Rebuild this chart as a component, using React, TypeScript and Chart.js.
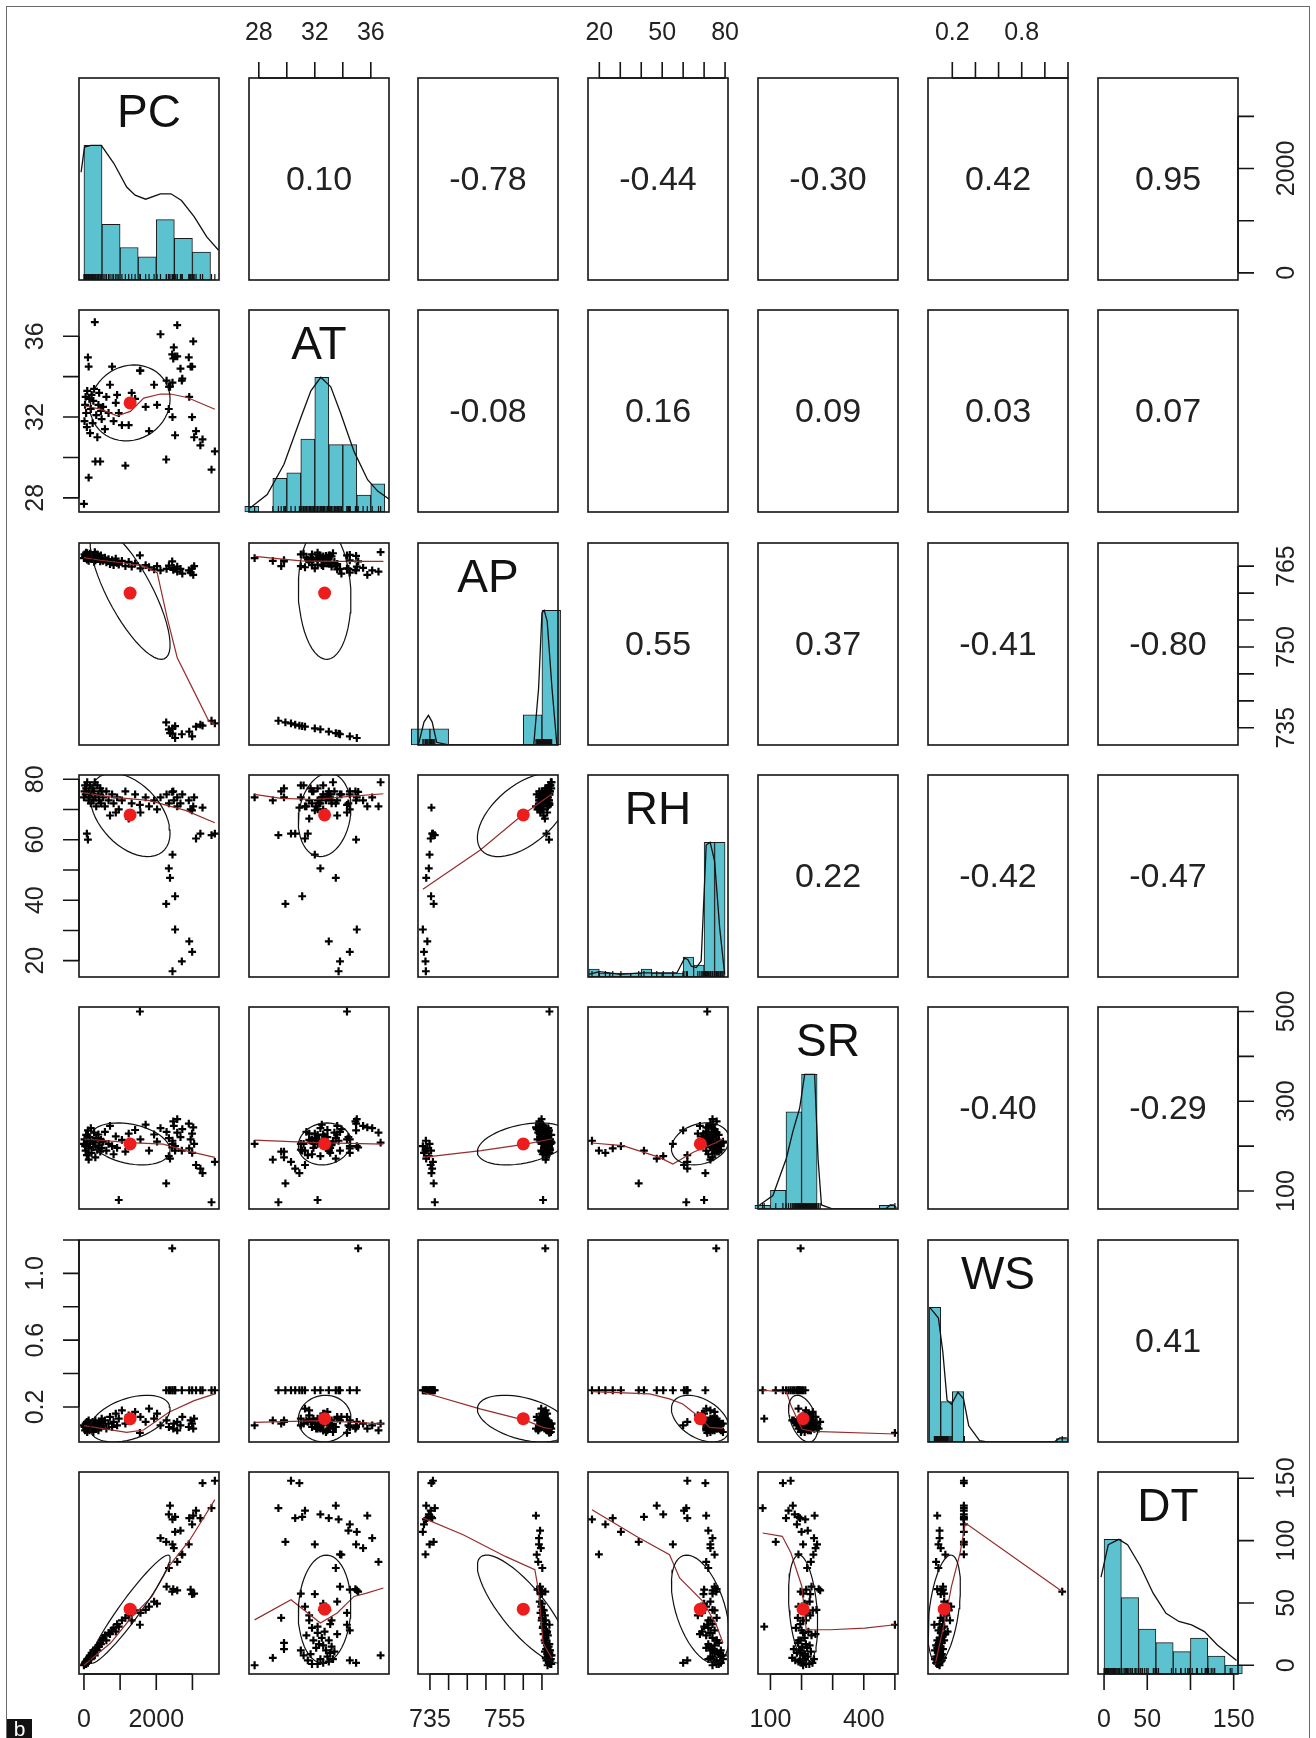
import { useEffect, useRef } from 'react';
import { Chart, registerables } from 'chart.js';

Chart.register(...registerables);

const VAR_NAMES = ['PC', 'AT', 'AP', 'RH', 'SR', 'WS', 'DT'];

// ---- raw observations (first 15 rows: low-pressure cluster) ----
const PC_OBS = [3528, 2275, 3620, 3220, 3280, 2521, 3100, 2449, 2347, 2912, 2380, 2449, 2993, 2521, 2707,
  0, 15, 30, 45, 60, 80, 90, 110, 130, 130, 150, 170, 190, 210, 240, 260, 280, 300, 315, 340,
  370, 400, 420, 450, 470, 490, 530, 580, 620, 680, 720, 778, 820, 880, 917, 963, 1050, 1146, 1238, 1320,
  1415, 1547, 1562, 1706, 1800, 1940, 2022, 2117, 2285, 2350, 2441, 2470, 2485, 2580, 2580, 2670, 2720, 2900, 2950, 2990,
  3023, 3048];
const AT_OBS = [29.4, 29.9, 30.3, 30.6, 30.9, 31.1, 31.3, 32.0, 32.4, 33.0, 33.5, 33.7, 34.5, 35.0, 33.8,
  27.7, 31.8, 32.6, 33.0, 32.2, 31.5, 33.3, 34.95, 29.0, 34.5, 32.9, 31.2, 32.4, 33.1, 31.7, 32.8, 33.4, 36.7, 29.8, 32.1,
  31.0, 32.6, 33.2, 29.8, 32.3, 31.9, 32.5, 31.4, 33.0, 32.2, 33.6, 34.5, 31.8, 32.7, 33.1, 32.2, 31.6, 29.6, 31.6, 33.2,
  32.9, 34.3, 34.3, 32.5, 31.3, 33.6, 32.6, 36.1, 33.8, 33.5, 35.1, 34.9, 35.45, 36.55, 35.0, 34.4, 33.9, 34.95, 34.5, 32.0,
  35.75, 31.0];
const AP_OBS = [736.3, 736.0, 735.8, 735.6, 735.4, 735.3, 735.2, 734.9, 734.7, 734.3, 734.0, 733.9, 733.4, 733.1, 733.8,
  766.5, 767.2, 766.8, 767.0, 767.5, 766.2, 767.4, 766.9, 766.0, 767.1, 766.6, 767.3, 766.7, 767.0, 766.4, 766.9, 765.8, 767.6, 766.1, 766.5,
  767.2, 766.3, 766.8, 765.9, 767.0, 766.2, 766.0, 766.6, 765.7, 766.3, 765.4, 766.1, 765.2, 766.4, 765.6, 765.3, 766.0, 765.0, 765.8, 764.9,
  765.5, 767.0, 764.6, 765.2, 764.8, 764.4, 765.0, 764.2, 764.5, 765.1, 765.9, 764.3, 764.7, 764.0, 764.9, 764.5, 763.6, 764.2, 763.8, 764.6,
  763.4, 765.0];
const RH_OBS = [61.5, 38.8, 62.0, 62.0, 70.6, 41.3, 60.4, 55.1, 50.5, 26.4, 47.4, 16.5, 22.9, 30.3, 19.8,
  74, 76, 78, 75, 77, 62, 79, 60, 73, 76, 74, 78, 72, 75, 77, 73, 76, 79, 74, 71,
  78, 75, 73, 77, 72, 76, 74, 71, 76, 73, 68, 75, 72, 69, 74, 70, 73, 76, 67, 72,
  75, 71.5, 69, 74, 71, 73, 70, 74, 75, 72, 75.8, 76, 73, 71, 74, 72, 75, 73, 70, 69.7,
  71, 74];
const SR_OBS = [75, 117, 165, 150, 140, 190, 158, 205, 178, 195, 172, 212, 185, 200, 190,
  205, 215, 200, 190, 225, 180, 210, 235, 170, 195, 220, 205, 240, 185, 212, 198, 230, 208, 175, 218,
  192, 226, 202, 188, 214, 196, 210, 232, 190, 205, 245, 200, 182, 222, 196, 80, 214, 188, 228, 205,
  236, 500, 215, 248, 190, 226, 210, 240, 232, 218, 197, 255, 245, 230, 260, 220, 238, 250, 215, 228,
  242, 205];
const WS_OBS = [0.3, 0.3, 0.3, 0.3, 0.3, 0.3, 0.3, 0.3, 0.3, 0.3, 0.3, 0.3, 0.3, 0.3, 0.3,
  0.09, 0.08, 0.06, 0.10, 0.07, 0.11, 0.05, 0.09, 0.12, 0.08, 0.06, 0.10, 0.07, 0.09, 0.11, 0.05, 0.08, 0.10, 0.12, 0.07,
  0.09, 0.06, 0.10, 0.11, 0.08, 0.13, 0.09, 0.12, 0.07, 0.10, 0.14, 0.08, 0.11, 0.16, 0.09, 0.13, 0.18, 0.10, 0.15, 0.12,
  0.17, 0.045, 0.14, 0.11, 0.19, 0.13, 0.16, 0.09, 0.12, 0.08, 1.15, 0.07, 0.10, 0.06, 0.11, 0.09, 0.14, 0.08, 0.12, 0.10,
  0.07, 0.13];
const DT_OBS = [126, 99, 148, 118, 146, 119, 124, 97, 121, 118, 128, 117, 113, 107, 89,
  0, 1, 2, 3, 1, 4, 5, 2, 6, 4, 7, 8, 5, 10, 9, 12, 11, 8, 13, 14,
  12, 16, 15, 18, 17, 20, 22, 24, 20, 26, 25, 28, 30, 27, 33, 31, 36, 38, 40, 36,
  44, 32.5, 42, 44.5, 47, 51, 49.4, 102, 63, 78, 59, 61, 94, 83, 60, 108, 88.7, 97, 60.6, 57,
  120, 57.4];

// ---- summary statistics (red dots, ellipses, printed correlations) ----
const MEANS = [1276, 32.7, 760.0, 68.2, 205, 0.13, 45];
const SDS = [1106, 1.88, 12.3, 13.8, 46.8, 0.14, 43.4];
const CORR = [
  [1, 0.10, -0.78, -0.44, -0.30, 0.42, 0.95],
  [0.10, 1, -0.08, 0.16, 0.09, 0.03, 0.07],
  [-0.78, -0.08, 1, 0.55, 0.37, -0.41, -0.80],
  [-0.44, 0.16, 0.55, 1, 0.22, -0.42, -0.47],
  [-0.30, 0.09, 0.37, 0.22, 1, -0.40, -0.29],
  [0.42, 0.03, -0.41, -0.42, -0.40, 1, 0.41],
  [0.95, 0.07, -0.80, -0.47, -0.29, 0.41, 1],
];

// ---- axes ----
const AXIS_MIN = [-137, 27.3, 731.8, 14.6, 60, -0.01, -7];
const AXIS_MAX = [3735, 37.3, 769.3, 81.4, 510, 1.2, 155];
const TICKS = [
  [0, 1000, 2000, 3000],
  [28, 30, 32, 34, 36],
  [735, 740, 745, 750, 755, 760, 765],
  [20, 30, 40, 50, 60, 70, 80],
  [100, 200, 300, 400, 500],
  [0.2, 0.4, 0.6, 0.8, 1.0, 1.2],
  [0, 50, 100, 150],
];
const LABELS_H = [[0, 2000], [28, 32, 36], [735, 755], [20, 50, 80], [100, 400], [0.2, 0.8], [0, 50, 150]];
const LABELS_V = [[0, 2000], [28, 32, 36], [735, 750, 765], [20, 40, 60, 80], [100, 300, 500], [0.2, 0.6, 1.0], [0, 50, 100, 150]];
const DECIMALS = [0, 0, 0, 0, 0, 1, 0];

// ---- histograms (diagonal) ----
const HIST_PC_BREAKS = [0, 500, 1000, 1500, 2000, 2500, 3000, 3500];
const HIST_PC_COUNTS = [29, 12, 7, 5, 13, 9, 6];
const HIST_AT_BREAKS = [27, 28, 29, 30, 31, 32, 33, 34, 35, 36, 37];
const HIST_AT_COUNTS = [1, 0, 6, 7, 13, 24, 12, 12, 3, 5];
const HIST_AP_BREAKS = [730, 735, 740, 745, 750, 755, 760, 765, 770];
const HIST_AP_COUNTS = [7, 7, 0, 0, 0, 0, 13, 58];
const HIST_RH_BREAKS = [15, 20, 25, 30, 35, 40, 45, 50, 55, 60, 65, 70, 75, 80];
const HIST_RH_COUNTS = [2, 1, 1, 1, 1, 2, 1, 1, 1, 5, 3, 34, 34];
const HIST_SR_BREAKS = [50, 100, 150, 200, 250, 300, 350, 400, 450, 500];
const HIST_SR_COUNTS = [1, 5, 26, 36, 0, 0, 0, 0, 1];
const HIST_WS_BREAKS = [0, 0.1, 0.2, 0.3, 0.4, 0.5, 0.6, 0.7, 0.8, 0.9, 1.0, 1.1, 1.2];
const HIST_WS_COUNTS = [40, 12, 15, 0, 0, 0, 0, 0, 0, 0, 0, 1];
const HIST_DT_BREAKS = [0, 20, 40, 60, 80, 100, 120, 140, 160];
const HIST_DT_COUNTS = [30, 17, 10, 7, 5, 8, 4, 2];

// ---- density curves (scaled to peak 1) ----
const DENS_PC = [[-79, 0.8], [15, 0.987], [190, 1.0], [481, 1.0], [830, 0.865], [1182, 0.69], [1415, 0.63], [1706, 0.6], [2116, 0.64], [2407, 0.64], [2698, 0.59], [3047, 0.47], [3397, 0.32], [3724, 0.22]];
const DENS_AT = [[27.37, 0.03], [28.6, 0.13], [29.8, 0.355], [31.0, 0.7], [31.72, 0.9], [32.43, 1.0], [33.14, 0.93], [33.86, 0.73], [34.8, 0.45], [35.77, 0.24], [36.49, 0.155], [37.32, 0.094]];
const DENS_AP = [[731.9, 0], [733.4, 0.17], [734.6, 0.22], [735.6, 0.17], [736.8, 0.02], [740, 0], [762.8, 0], [764.1, 0.42], [765.0, 0.98], [765.6, 1.0], [766.4, 0.92], [767.7, 0.42], [769.0, 0]];
const DENS_RH = [[15, 0.02], [20, 0.04], [25, 0.03], [30, 0.02], [40, 0.03], [50, 0.03], [57, 0.03], [60.7, 0.14], [62.2, 0.13], [63.9, 0.08], [66.3, 0.07], [68.6, 0.12], [71.0, 0.98], [72.9, 1.0], [75.0, 0.86], [77.4, 0.37], [79.8, 0.02]];
const DENS_SR = [[65, 0.03], [108, 0.1], [151, 0.375], [172, 0.575], [194, 0.75], [210, 1.0], [242, 1.0], [253, 0.375], [264, 0.03], [301, 0], [470, 0], [485, 0.03], [495, 0.03], [505, 0.01]];
const DENS_WS = [[0.006, 1.0], [0.08, 0.92], [0.118, 0.67], [0.155, 0.31], [0.193, 0.28], [0.249, 0.37], [0.297, 0.32], [0.342, 0.12], [0.436, 0.01], [0.5, 0], [1.08, 0], [1.13, 0.03], [1.19, 0.03]];
const DENS_DT = [[-3.5, 0.72], [4.9, 0.96], [17.1, 1.0], [27.2, 0.96], [42, 0.8], [56.8, 0.6], [71.7, 0.45], [86.6, 0.39], [101.3, 0.365], [116.2, 0.315], [131.1, 0.215], [153.3, 0.1]];

// ---- smoothed (lowess) lines, [x, y] ----
const SM_PC_AT = [[0, 32.56], [453, 32.39], [916, 32.06], [1285, 32.28], [1654, 32.94], [2117, 33.14], [2394, 33.14], [2857, 32.97], [3620, 32.39]];
const SM_PC_AP = [[0, 766.6], [453, 766.1], [1193, 765.5], [1654, 765.0], [2025, 763.8], [2302, 755.4], [2580, 748.0], [3040, 741.8], [3456, 736.2], [3620, 735.6]];
const SM_AT_AP = [[27.7, 766.8], [31.0, 766.0], [33.4, 765.9], [36.9, 765.9]];
const SM_PC_RH = [[0, 75.5], [758, 74.1], [1783, 73.0], [2193, 71.7], [2808, 69.7], [3620, 65.6]];
const SM_AT_RH = [[27.7, 75.0], [29.6, 73.7], [32.0, 73.3], [34.7, 74.4], [36.9, 75.2]];
const SM_AP_RH = [[733.1, 43.6], [748.4, 56.5], [760.0, 68.4], [767.6, 75.0]];
const SM_PC_SR = [[0, 216], [1271, 208], [2193, 204.5], [2808, 190], [3620, 175]];
const SM_AT_SR = [[27.7, 213.5], [32.0, 208], [36.9, 204.5]];
const SM_AP_SR = [[733.1, 175], [748.7, 190], [760.6, 204.5], [767.6, 216]];
const SM_RH_SR = [[16.5, 207], [31.2, 201], [48.7, 175], [55.1, 160], [64.6, 186], [75.8, 208], [79, 216]];
const SM_PC_WS = [[0, 0.088], [1183, 0.048], [1648, 0.062], [2349, 0.168], [3048, 0.238], [3620, 0.278]];
const SM_AT_WS = [[27.7, 0.108], [32.4, 0.118], [36.9, 0.098]];
const SM_AP_WS = [[733.1, 0.288], [748.4, 0.188], [760.8, 0.118], [765.3, 0.078], [767.6, 0.068]];
const SM_RH_WS = [[16.5, 0.292], [44, 0.278], [53.5, 0.248], [59.8, 0.218], [67.8, 0.138], [72.6, 0.078], [79, 0.072]];
const SM_SR_WS = [[75, 0.3], [152, 0.288], [166, 0.208], [201, 0.068], [236, 0.054], [500, 0.038]];
const SM_PC_DT = [[0, 0], [737, 17.8], [1299, 37.9], [1881, 55.2], [2349, 79.3], [2932, 100.7], [3620, 132.8]];
const SM_AT_DT = [[27.7, 36.4], [30.3, 52.6], [31.2, 44.6], [32.4, 33.9], [33.6, 41.9], [34.8, 55.2], [35.7, 57.9], [36.9, 62]];
const SM_AP_DT = [[733.1, 118.2], [743.9, 104.7], [755.2, 87.3], [763.1, 76.7], [764.2, 57.9], [765.3, 17.8], [767.6, 5.8]];
const SM_RH_DT = [[16.5, 124.8], [37.6, 103.4], [53.5, 88.7], [58.3, 70], [69.4, 51.2], [75.8, 32.5], [79, 17.8]];
const SM_SR_DT = [[75, 106.1], [138, 103.4], [166, 90], [201, 63.2], [215, 28.5], [291.6, 28.5], [403, 29.8], [500, 32.5]];
const SM_WS_DT = [[0.05, 0], [0.137, 36.5], [0.193, 63.2], [0.267, 90], [0.313, 114.1], [1.15, 59.2]];

const OBS = [PC_OBS, AT_OBS, AP_OBS, RH_OBS, SR_OBS, WS_OBS, DT_OBS];
const HIST_BREAKS = [HIST_PC_BREAKS, HIST_AT_BREAKS, HIST_AP_BREAKS, HIST_RH_BREAKS, HIST_SR_BREAKS, HIST_WS_BREAKS, HIST_DT_BREAKS];
const HIST_COUNTS = [HIST_PC_COUNTS, HIST_AT_COUNTS, HIST_AP_COUNTS, HIST_RH_COUNTS, HIST_SR_COUNTS, HIST_WS_COUNTS, HIST_DT_COUNTS];
const DENS = [DENS_PC, DENS_AT, DENS_AP, DENS_RH, DENS_SR, DENS_WS, DENS_DT];
const SMOOTH: Record<string, number[][]> = {
  '1-0': SM_PC_AT, '2-0': SM_PC_AP, '2-1': SM_AT_AP,
  '3-0': SM_PC_RH, '3-1': SM_AT_RH, '3-2': SM_AP_RH,
  '4-0': SM_PC_SR, '4-1': SM_AT_SR, '4-2': SM_AP_SR, '4-3': SM_RH_SR,
  '5-0': SM_PC_WS, '5-1': SM_AT_WS, '5-2': SM_AP_WS, '5-3': SM_RH_WS, '5-4': SM_SR_WS,
  '6-0': SM_PC_DT, '6-1': SM_AT_DT, '6-2': SM_AP_DT, '6-3': SM_RH_DT, '6-4': SM_SR_DT, '6-5': SM_WS_DT,
};

// ---- layout / style ----
const GRID_X0 = 78.7;
const GRID_DX = 169.8;
const GRID_Y0 = 77.6;
const GRID_DY = 232.47;
const PW = 140;
const PH = 202;
const M = 64;
const FONT = '"Liberation Sans", Arial, Helvetica, sans-serif';
const CYAN = '#5cc2d0';
const RED = '#ee1d1d';
const SMOOTH_COL = '#952d2d';
const TICK_LEN = 16;

const panelLeft = (j: number) => Math.round(GRID_X0 + j * GRID_DX);
const panelTop = (i: number) => Math.round(GRID_Y0 + i * GRID_DY);

function ellipsePoints(i: number, j: number) {
  const r = CORR[i][j];
  const th = (r < 0 ? -1 : 1) / Math.SQRT2;
  const a = Math.sqrt(1 + r);
  const b = Math.sqrt(1 - r);
  const pts: { x: number; y: number }[] = [];
  const seg = 51;
  for (let k = 0; k <= seg; k++) {
    const ang = (k * 2 * Math.PI) / seg;
    const c = Math.cos(ang);
    const s = Math.sin(ang);
    const ex = c * a * th - s * b * th;
    const ey = c * a * th + s * b * th;
    pts.push({ x: ex * SDS[j] + MEANS[j], y: ey * SDS[i] + MEANS[i] });
  }
  return pts;
}

function fmt(v: number, d: number) {
  return v.toFixed(d);
}

function drawAxis(chart: any, side: string, v: number) {
  const ctx = chart.ctx;
  const a = chart.chartArea;
  const horiz = side === 'top' || side === 'bottom';
  const scale = horiz ? chart.scales.x : chart.scales.y;
  const ticks = TICKS[v];
  const labels = horiz ? LABELS_H[v] : LABELS_V[v];
  ctx.save();
  ctx.strokeStyle = '#151515';
  ctx.lineWidth = 1.6;
  ctx.beginPath();
  const p0 = scale.getPixelForValue(ticks[0]);
  const p1 = scale.getPixelForValue(ticks[ticks.length - 1]);
  if (side === 'bottom') { ctx.moveTo(p0, a.bottom); ctx.lineTo(p1, a.bottom); }
  if (side === 'top') { ctx.moveTo(p0, a.top); ctx.lineTo(p1, a.top); }
  if (side === 'left') { ctx.moveTo(a.left, p0); ctx.lineTo(a.left, p1); }
  if (side === 'right') { ctx.moveTo(a.right, p0); ctx.lineTo(a.right, p1); }
  for (const t of ticks) {
    const p = scale.getPixelForValue(t);
    if (side === 'bottom') { ctx.moveTo(p, a.bottom); ctx.lineTo(p, a.bottom + TICK_LEN); }
    if (side === 'top') { ctx.moveTo(p, a.top); ctx.lineTo(p, a.top - TICK_LEN); }
    if (side === 'left') { ctx.moveTo(a.left, p); ctx.lineTo(a.left - TICK_LEN, p); }
    if (side === 'right') { ctx.moveTo(a.right, p); ctx.lineTo(a.right + TICK_LEN, p); }
  }
  ctx.stroke();
  ctx.fillStyle = '#222';
  ctx.font = `25px ${FONT}`;
  ctx.textAlign = 'center';
  ctx.textBaseline = 'middle';
  for (const l of labels) {
    const p = scale.getPixelForValue(l);
    const txt = fmt(l, DECIMALS[v]);
    if (side === 'bottom') ctx.fillText(txt, p, a.bottom + 46);
    if (side === 'top') ctx.fillText(txt, p, a.top - 45);
    if (side === 'left' || side === 'right') {
      ctx.save();
      ctx.translate(side === 'left' ? a.left - 43 : a.right + 49, p);
      ctx.rotate(-Math.PI / 2);
      ctx.fillText(txt, 0, 0);
      ctx.restore();
    }
  }
  ctx.restore();
}

function decorPlugin(i: number, j: number) {
  return {
    id: 'pairsDecor',
    afterDraw(chart: any) {
      const ctx = chart.ctx;
      const a = chart.chartArea;
      ctx.save();
      ctx.strokeStyle = '#151515';
      ctx.lineWidth = 1.6;
      ctx.strokeRect(a.left, a.top, a.right - a.left, a.bottom - a.top);
      ctx.fillStyle = '#222';
      ctx.textAlign = 'center';
      ctx.textBaseline = 'middle';
      if (i < j) {
        ctx.font = `34px ${FONT}`;
        ctx.fillText(fmt(CORR[i][j], 2), (a.left + a.right) / 2, (a.top + a.bottom) / 2 + 2);
      } else if (i === j) {
        ctx.fillStyle = '#111';
        ctx.font = `46px ${FONT}`;
        ctx.fillText(VAR_NAMES[i], (a.left + a.right) / 2, a.top + 36);
      }
      ctx.restore();
      if (i === 0 && j % 2 === 1) drawAxis(chart, 'top', j);
      if (i === 6 && j % 2 === 0) drawAxis(chart, 'bottom', j);
      if (j === 0 && i % 2 === 1) drawAxis(chart, 'left', i);
      if (j === 6 && i % 2 === 0) drawAxis(chart, 'right', i);
    },
  };
}

function buildConfig(i: number, j: number): any {
  const datasets: any[] = [];
  const scales: any = {
    x: { type: 'linear', display: false, offset: false, min: AXIS_MIN[j], max: AXIS_MAX[j], grid: { offset: false } },
    y: { type: 'linear', display: false, offset: false, min: AXIS_MIN[i], max: AXIS_MAX[i] },
  };
  if (i === j) {
    const br = HIST_BREAKS[i];
    const ct = HIST_COUNTS[i];
    const mx = Math.max(...ct);
    scales.x.afterBuildTicks = (s: any) => {
      s.ticks = br.map((v) => ({ value: v }));
    };
    scales.yh = { type: 'linear', display: false, offset: false, min: 0, max: 1.5 };
    datasets.push({
      data: DENS[i].map(([x, y]) => ({ x, y })),
      yAxisID: 'yh', showLine: true, borderColor: '#111', borderWidth: 1.3,
      pointRadius: 0, tension: 0, clip: 0,
    });
    datasets.push({
      data: OBS[i].map((v) => ({ x: v, y: 0 })),
      yAxisID: 'yh', pointStyle: 'line', rotation: 90, pointRadius: 6,
      pointBorderColor: '#111', pointBorderWidth: 1.2, borderColor: '#111', clip: 0,
    });
    const bars: { x: number; y: number }[] = [];
    for (let k = 0; k < ct.length; k++) {
      if (ct[k] > 0) bars.push({ x: (br[k] + br[k + 1]) / 2, y: ct[k] / mx });
    }
    datasets.push({
      type: 'bar', data: bars, yAxisID: 'yh',
      backgroundColor: CYAN, borderColor: '#1a1a1a', borderWidth: 1, borderSkipped: false,
      barPercentage: 1, categoryPercentage: 1, clip: false,
    });
  } else if (i > j) {
    const xs = OBS[j];
    const ys = OBS[i];
    datasets.push({
      data: [{ x: MEANS[j], y: MEANS[i] }],
      pointStyle: 'circle', pointRadius: 6.5, pointBackgroundColor: RED,
      pointBorderColor: RED, pointBorderWidth: 0, clip: 0,
    });
    datasets.push({
      data: ellipsePoints(i, j), showLine: true, borderColor: '#111', borderWidth: 1.2,
      pointRadius: 0, tension: 0, clip: 0,
    });
    datasets.push({
      data: SMOOTH[`${i}-${j}`].map(([x, y]) => ({ x, y })), showLine: true,
      borderColor: SMOOTH_COL, borderWidth: 1.2, pointRadius: 0, tension: 0, clip: 0,
    });
    datasets.push({
      data: xs.map((x, k) => ({ x, y: ys[k] })),
      pointStyle: 'cross', pointRadius: 3.9, pointBorderColor: '#000', pointBorderWidth: 2.2,
      borderColor: '#000', clip: 0,
    });
  }
  return {
    type: 'scatter',
    data: { datasets },
    options: {
      animation: false,
      responsive: false,
      events: [],
      layout: { padding: M },
      scales,
      plugins: { legend: { display: false }, tooltip: { enabled: false } },
    },
    plugins: [decorPlugin(i, j)],
  };
}

function Panel({ i, j }: { i: number; j: number }) {
  const ref = useRef<HTMLCanvasElement | null>(null);
  useEffect(() => {
    if (!ref.current) return;
    const chart = new Chart(ref.current, buildConfig(i, j));
    return () => chart.destroy();
  }, [i, j]);
  const w = PW + 2 * M;
  const h = PH + 2 * M;
  return (
    <canvas
      ref={ref}
      width={w}
      height={h}
      style={{ position: 'absolute', left: panelLeft(j) - M, top: panelTop(i) - M, width: w, height: h }}
    />
  );
}

export default function App() {
  const cells = [];
  for (let i = 0; i < 7; i++) {
    for (let j = 0; j < 7; j++) cells.push(<Panel key={`${i}-${j}`} i={i} j={j} />);
  }
  return (
    <div style={{ position: 'absolute', left: 0, top: 0, width: 1316, height: 1738, background: '#fff', overflow: 'hidden' }}>
      <div style={{ position: 'absolute', left: 6, top: 6, width: 1304, height: 1745, border: '1px solid #6a6a6a', boxSizing: 'border-box' }} />
      {cells}
      <div
        style={{
          position: 'absolute', left: 7, top: 1719, width: 25, height: 19, background: '#111', color: '#fff',
          font: `21px ${FONT}`, lineHeight: '19px', textAlign: 'center',
        }}
      >
        b
      </div>
    </div>
  );
}
